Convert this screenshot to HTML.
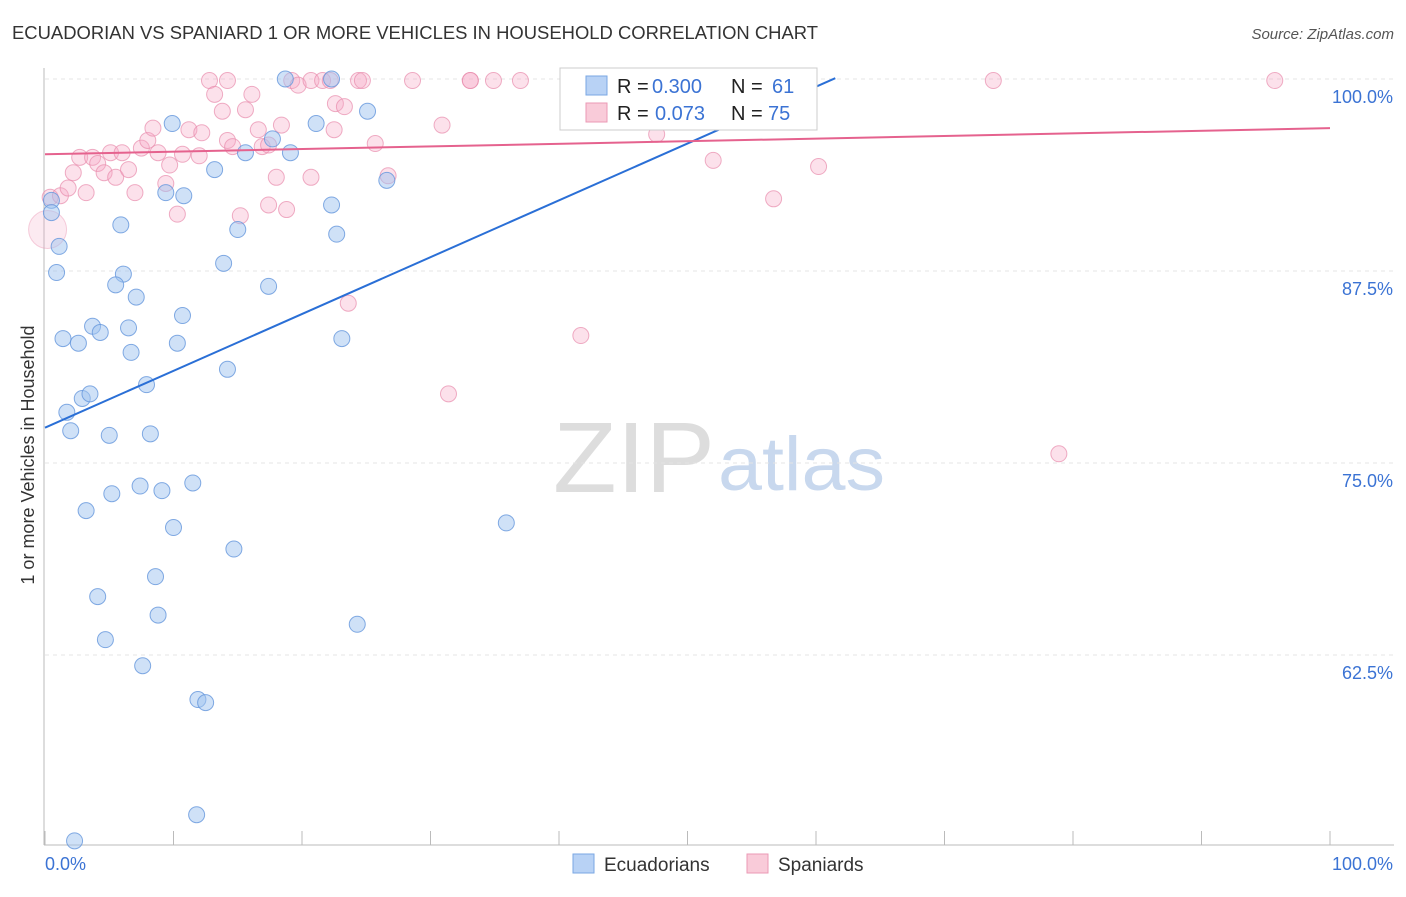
<!DOCTYPE html>
<html><head><meta charset="utf-8"><style>
body{margin:0;background:#fff;font-family:"Liberation Sans",sans-serif;}
svg text{font-family:"Liberation Sans",sans-serif;}
</style></head><body>
<svg id="chart" width="1406" height="892" xmlns="http://www.w3.org/2000/svg">
<text x="12" y="39" font-size="18" fill="#333" textLength="806" lengthAdjust="spacingAndGlyphs">ECUADORIAN VS SPANIARD 1 OR MORE VEHICLES IN HOUSEHOLD CORRELATION CHART</text>
<text x="1394" y="39" font-size="15" fill="#555" text-anchor="end" font-style="italic">Source: ZipAtlas.com</text>
<text transform="translate(34,455) rotate(-90)" font-size="18" fill="#333" text-anchor="middle">1 or more Vehicles in Household</text>
<text x="553" y="492" font-size="100" fill="#ddd" font-family="Liberation Serif" textLength="162" lengthAdjust="spacingAndGlyphs">ZIP</text>
<text x="718" y="490" font-size="76" fill="#c8d8ee" textLength="167" lengthAdjust="spacingAndGlyphs">atlas</text>
<g id="grid"></g><g id="axes"></g><g id="marks"></g>
<g>
<rect x="560" y="68" width="257" height="62" fill="#fff" stroke="#ccc"/>
<rect x="586" y="76" width="21" height="19" fill="#b8d2f5" stroke="#7aa7e3"/>
<rect x="586" y="103" width="21" height="19" fill="#f9cbd9" stroke="#eb9ab5"/>
<text x="617" y="93" font-size="20" fill="#222">R =</text>
<text x="652" y="93" font-size="20" fill="#3b73d4">0.300</text>
<text x="731" y="93" font-size="20" fill="#222">N =</text>
<text x="772" y="93" font-size="20" fill="#3b73d4">61</text>
<text x="617" y="120" font-size="20" fill="#222">R =</text>
<text x="655" y="120" font-size="20" fill="#3b73d4">0.073</text>
<text x="731" y="120" font-size="20" fill="#222">N =</text>
<text x="768" y="120" font-size="20" fill="#3b73d4">75</text>
</g>
<g>
<rect x="573" y="854" width="21" height="19" fill="#b8d2f5" stroke="#7aa7e3"/>
<text x="604" y="871" font-size="19" fill="#333">Ecuadorians</text>
<rect x="747" y="854" width="21" height="19" fill="#f9cbd9" stroke="#eb9ab5"/>
<text x="778" y="871" font-size="19" fill="#333">Spaniards</text>
</g>
</svg>
<script>
const blueX=[0.5,0.5,1.1,0.9,1.4,2.6,3.7,4.3,1.7,2.0,2.9,3.5,5.0,5.2,3.2,5.9,6.1,5.5,7.1,6.5,6.7,7.9,8.2,7.4,9.1,11.5,10.0,8.6,4.1,8.8,4.7,7.6,11.9,12.5,11.8,2.3,9.9,9.4,10.8,13.2,15.0,13.9,10.7,10.3,14.2,14.7,15.6,17.4,17.7,19.1,18.7,22.3,21.1,25.1,22.3,22.7,23.1,26.6,24.3,35.9,59.4];
const blueY=[92.1,91.3,89.1,87.4,83.1,82.8,83.9,83.5,78.3,77.1,79.2,79.5,76.8,73.0,71.9,90.5,87.3,86.6,85.8,83.8,82.2,80.1,76.9,73.5,73.2,73.7,70.8,67.6,66.3,65.1,63.5,61.8,59.6,59.4,52.1,50.4,97.1,92.6,92.4,94.1,90.2,88.0,84.6,82.8,81.1,69.4,95.2,86.5,96.1,95.2,100,100,97.1,97.9,91.8,89.9,83.1,93.4,64.5,71.1,100];
const pinkX=[0.4,1.2,1.8,2.2,2.7,3.2,3.7,4.1,4.6,5.1,5.5,6.0,6.5,7.0,7.5,8.0,8.4,8.8,9.4,9.7,10.3,10.7,11.2,12.0,12.2,12.8,13.2,13.8,14.2,14.6,15.2,15.6,16.1,16.6,16.9,17.4,17.4,18.0,18.4,18.8,19.2,19.7,20.7,20.7,21.6,22.5,22.6,23.3,23.6,24.4,24.7,25.7,26.7,28.6,30.9,31.4,33.1,33.1,34.9,37.0,40.8,41.7,45.5,47.6,51.0,52.0,56.3,56.7,60.2,73.8,78.9,95.7,22.2,14.2];
const pinkY=[92.3,92.4,92.9,93.9,94.9,92.6,94.9,94.5,93.9,95.2,93.6,95.2,94.1,92.6,95.5,96.0,96.8,95.2,93.2,94.4,91.2,95.1,96.7,95.0,96.5,99.9,99.0,97.9,96.0,95.6,91.1,98.0,99.0,96.7,95.6,95.7,91.8,93.6,97.0,91.5,99.9,99.6,93.6,99.9,99.9,96.7,98.4,98.2,85.4,99.9,99.9,95.8,93.7,99.9,97.0,79.5,99.9,99.9,99.9,99.9,99.9,83.3,99.9,96.4,99.9,94.7,99.9,92.2,94.3,99.9,75.6,99.9,99.9,99.9];
const bigPink=[0.2,90.2];
const blueTrend=[77.3,0.37,61.5];
const pinkTrend=[95.1,0.017,100];
const yTicks=[100,87.5,75,62.5];
const yTickLabels=["100.0%","87.5%","75.0%","62.5%"];
const xTicks=[0,10,20,30,40,50,60,70,80,90,100];
const NS="http://www.w3.org/2000/svg";
const X=v=>45+v*12.85, Y=v=>79+(100-v)*15.36;
function mk(tag,attrs,parent){const e=document.createElementNS(NS,tag);for(const k in attrs)e.setAttribute(k,attrs[k]);document.getElementById(parent).appendChild(e);return e;}
yTicks.forEach((t,i)=>{
 const g=mk('line',{x1:45,x2:1394,y1:Y(t),y2:Y(t),stroke:'#e4e4e4','stroke-dasharray':'4,4'},'grid');
 
 
 const l=mk('text',{x:1393,y:Y(t)+24,'font-size':18,fill:'#3b73d4','text-anchor':'end'},'axes');
 l.textContent=yTickLabels[i];
 
 
});
const ax=mk('line',{x1:44,x2:44,y1:68,y2:845,stroke:'#bbb'},'axes');


const bx=mk('line',{x1:44,x2:1394,y1:845,y2:845,stroke:'#bbb'},'axes');


xTicks.forEach(t=>{
 const k=mk('line',{x1:X(t),x2:X(t),y1:831,y2:845,stroke:'#bbb'},'axes');
 
 
});
const xl0=mk('text',{x:45,y:870,'font-size':18,fill:'#3b73d4'},'axes');xl0.textContent='0.0%';


const xl1=mk('text',{x:1393,y:870,'font-size':18,fill:'#3b73d4','text-anchor':'end'},'axes');xl1.textContent='100.0%';


pinkX.forEach((x,i)=>{
 const c=mk('circle',{cx:X(x),cy:Y(pinkY[i]),r:8,fill:'rgba(245,170,198,0.35)',stroke:'rgba(232,140,172,0.7)'},'marks');
 
 
});
const bp=mk('circle',{cx:X(bigPink[0]),cy:Y(bigPink[1]),r:19,fill:'rgba(245,170,198,0.25)',stroke:'rgba(232,140,172,0.4)'},'marks');


blueX.forEach((x,i)=>{
 const c=mk('circle',{cx:X(x),cy:Y(blueY[i]),r:8,fill:'rgba(160,195,240,0.5)',stroke:'rgba(100,150,220,0.8)'},'marks');
 
 
});
const bl=mk('line',{x1:X(0),y1:Y(blueTrend[0]),x2:X(blueTrend[2]),y2:Y(blueTrend[0]+blueTrend[1]*blueTrend[2]),stroke:'#2a6fd6','stroke-width':2},'marks');


const pl=mk('line',{x1:X(0),y1:Y(pinkTrend[0]),x2:X(pinkTrend[2]),y2:Y(pinkTrend[0]+pinkTrend[1]*pinkTrend[2]),stroke:'#e5628e','stroke-width':2},'marks');


</script>
</body></html>
